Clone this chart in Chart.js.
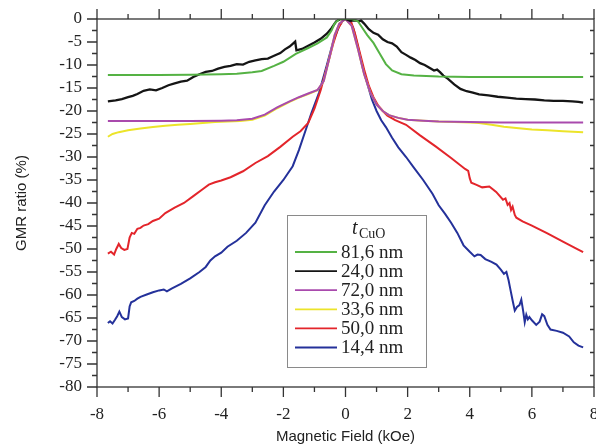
<!DOCTYPE html>
<html>
<head>
<meta charset="utf-8">
<script src="https://cdn.jsdelivr.net/npm/chart.js@4.4.0/dist/chart.umd.min.js"></script>
<style>
  html, body { margin: 0; padding: 0; background: #fff; }
  #wrap { width: 596px; height: 448px; position: relative; }
</style>
</head>
<body>
<div id="wrap"><canvas id="gmr"></canvas></div>
<script>
// thickness of CuO layer, one curve each
const labels = ['81,6 nm', '24,0 nm', '72,0 nm', '33,6 nm', '50,0 nm', '14,4 nm']

const xTicks = [-8, -6, -4, -2, 0, 2, 4, 6, 8]
const yTicks = [-80, -75, -70, -65, -60, -55, -50, -45, -40, -35, -30, -25, -20, -15, -10, -5, 0]

// 81,6 nm
const green_x = [-7.65, -6, -5, -4, -3.5, -3, -2.7, -2.3, -2, -1.6, -1.2, -0.9, -0.6, -0.45, -0.35, -0.2, 0, 0.2, 0.4, 0.55, 0.7, 0.9, 1.1, 1.3, 1.5, 1.8, 2.2, 3, 4, 5, 6, 7, 7.65]
const green_y = [-12.2, -12.2, -12.1, -12.0, -11.9, -11.6, -11.3, -10.2, -9.3, -7.6, -6.3, -5.3, -4.0, -2.5, -1, 0, 0, 0, -0.5, -2, -3.5, -5.2, -7.5, -9.8, -11.2, -12.0, -12.3, -12.5, -12.6, -12.6, -12.6, -12.6, -12.6]

// 24,0 nm
const black_x = [-7.65, -7.4, -7.2, -7.0, -6.85, -6.7, -6.5, -6.3, -6.1, -5.9, -5.7, -5.5, -5.3, -5.1, -4.9, -4.7, -4.5, -4.3, -4.1, -3.9, -3.7, -3.5, -3.3, -3.1, -2.9, -2.7, -2.5, -2.3, -2.1, -1.95, -1.8, -1.7, -1.62, -1.58, -1.4, -1.2, -1.0, -0.8, -0.6, -0.45, -0.3, -0.15, 0, 0.15, 0.3, 0.45,
  0.5, 0.6, 0.75, 0.9, 1.05, 1.2, 1.35, 1.5, 1.65, 1.8, 1.95, 2.1, 2.25, 2.4, 2.55, 2.7, 2.85, 2.95, 3.05, 3.15, 3.3, 3.5, 3.7, 3.9, 4.1, 4.3, 4.6, 4.9, 5.2, 5.5, 5.8, 6.1, 6.4, 6.7, 7.0, 7.3, 7.5, 7.65]
const black_y = [-17.9, -17.7, -17.4, -17.0, -16.7, -16.3, -15.6, -15.3, -15.5, -15.0, -14.4, -14.0, -13.6, -13.4, -12.6, -12.0, -11.5, -11.3, -10.8, -10.4, -10.2, -9.8, -9.9, -9.3, -9.0, -8.7, -8.6, -8.0, -7.4, -6.6, -6.0, -5.4, -4.9, -6.8, -6.5, -5.8, -5.1, -4.3, -3.2, -2.0, -0.5, 0, 0, -0.4, -0.3, -0.5,
  -0.3, -1.0, -2.2, -3.0, -3.4, -4.4, -5.0, -5.3, -6.0, -7.2, -7.8, -8.4, -8.9, -9.6, -10.0, -10.6, -11.2, -11.0, -11.6, -12.3, -13.0, -14.2, -15.2, -15.7, -16.0, -16.4, -16.6, -16.9, -17.1, -17.3, -17.4, -17.5, -17.7, -17.8, -17.8, -17.9, -18.0, -18.2]

// 72,0 nm
const purple_x = [-7.65, -6, -5, -4, -3.5, -3.0, -2.6, -2.2, -1.8, -1.5, -1.2, -0.9, -0.7, -0.5, -0.35, -0.2, 0, 0.2, 0.4, 0.6, 0.8, 1.0, 1.2, 1.4, 1.7, 2.0, 2.5, 3, 4, 5, 6, 7, 7.65]
const purple_y = [-22.2, -22.2, -22.2, -22.1, -22.0, -21.7, -20.8, -19.2, -17.9, -17.0, -16.2, -15.4, -13.5, -8.0, -3.5, -1.0, 0, -1.5, -6.5, -12.0, -16.0, -18.6, -20.0, -20.9, -21.5, -21.9, -22.1, -22.3, -22.4, -22.5, -22.5, -22.5, -22.5]

// 33,6 nm
const yellow_x = [-7.65, -7.5, -7.3, -7.0, -6.6, -6.2, -5.8, -5.4, -5.0, -4.6, -4.2, -3.8, -3.4, -3.0, -2.6, -2.2, -1.8, -1.5, -1.2, -0.9, -0.7, -0.5, -0.35, -0.2, 0, 0.2, 0.4, 0.6, 0.8, 1.0, 1.2, 1.4, 1.7, 2.0, 2.5, 3, 3.5, 4.0, 4.3, 4.7, 5.1, 5.5, 6.0, 6.5, 7.0, 7.65]
const yellow_y = [-25.6, -25.0, -24.6, -24.2, -23.8, -23.5, -23.2, -23.0, -22.8, -22.6, -22.4, -22.3, -22.2, -21.9, -21.0, -19.4, -18.0, -17.1, -16.3, -15.5, -13.5, -8.0, -3.5, -1.0, 0, -1.5, -6.5, -12.0, -16.0, -18.6, -20.0, -20.9, -21.5, -21.9, -22.1, -22.3, -22.4, -22.5, -22.6, -23.0, -23.4, -23.7, -24.0, -24.2, -24.4, -24.6]

// 50,0 nm
const red_x = [-7.65, -7.55, -7.45, -7.38, -7.3, -7.22, -7.12, -7.02, -6.95, -6.88, -6.8, -6.7, -6.6, -6.5, -6.35, -6.2, -6.0, -5.8, -5.5, -5.2, -4.9, -4.6, -4.4, -4.2, -4.0, -3.7, -3.3, -2.9, -2.5, -2.1, -1.7, -1.45, -1.2, -1.0, -0.8, -0.6, -0.4, -0.25, -0.1, 0,
  0.15, 0.3, 0.45, 0.6, 0.75, 0.9, 1.05, 1.2, 1.35, 1.6, 1.95, 2.4, 2.9, 3.4, 3.85, 3.95, 4.0, 4.05, 4.2, 4.4, 4.63, 4.85, 5.07, 5.15, 5.22, 5.28, 5.33, 5.38, 5.45, 5.5, 5.7, 6.0, 6.5, 7.0, 7.4, 7.65]
const red_y = [-51.0, -50.6, -51.2, -50.0, -48.9, -49.8, -50.2, -50.0, -47.5, -46.5, -46.7, -45.6, -45.4, -44.9, -44.6, -43.9, -43.4, -42.2, -41.0, -40.0, -38.5, -37.0, -36.0, -35.5, -35.1, -34.4, -33.1, -31.3, -29.8, -27.8, -25.6, -24.4, -22.6, -19.5, -15.5, -10.5, -5.5, -2.2, -0.5, 0,
  0, -3.0, -7.0, -11.0, -14.5, -17.0, -18.8, -20.0, -21.0, -22.0, -23.0, -25.3, -27.7, -30.2, -32.6, -33.0, -34.6, -35.6, -36.0, -36.6, -36.4, -37.6, -39.3, -39.0, -40.4, -40.0, -41.5, -40.8, -42.6, -43.2, -44.0, -44.9, -46.6, -48.4, -49.8, -50.7]

// 14,4 nm
const blue_x = [-7.65, -7.58, -7.5, -7.42, -7.35, -7.28, -7.2, -7.1, -7.0, -6.95, -6.9, -6.8, -6.7, -6.6, -6.4, -6.2, -6.0, -5.85, -5.75, -5.6, -5.3, -5.0, -4.7, -4.5, -4.35, -4.2, -4.0, -3.8, -3.5, -3.2, -2.9, -2.6, -2.3, -2.0, -1.7, -1.5, -1.3, -1.1, -0.85, -0.6, -0.4, -0.2, -0.05,
  0.1, 0.25, 0.4, 0.55, 0.7, 0.85, 1.0, 1.15, 1.3, 1.5, 1.7, 1.95, 2.2, 2.5, 2.8, 3.0, 3.2, 3.4, 3.6, 3.8, 4.0, 4.15, 4.25, 4.35, 4.5, 4.7, 4.86, 5.0, 5.1, 5.18, 5.25, 5.3, 5.38, 5.45, 5.52, 5.6, 5.66, 5.72, 5.77, 5.82, 5.87, 5.92, 6.0, 6.14, 6.25, 6.33, 6.4, 6.5, 6.6, 6.8, 7.0, 7.2, 7.35, 7.5, 7.65]
const blue_y = [-66.1, -65.7, -66.2, -65.4, -64.6, -63.6, -64.8, -65.3, -65.1, -62.5, -61.6, -61.3, -60.8, -60.4, -59.9, -59.4, -59.0, -58.8, -59.2, -58.6, -57.6, -56.4, -55.0, -53.9, -52.5, -51.6, -50.8, -49.5, -48.2, -46.5, -44.3, -40.5, -37.5, -35.0, -32.0, -28.5, -24.5, -20.5, -16.0, -10.0, -5.0, -1.5, 0,
  0, -2.0, -6.0, -10.5, -14.0, -17.5, -20.0, -22.0, -23.5, -25.8, -27.9, -30.0, -32.3, -35.0, -38.0, -40.5, -42.3, -44.3, -46.5, -49.2, -50.6, -51.6, -51.2, -51.3, -52.2, -52.8, -53.4, -54.5, -55.4, -55.0, -56.8, -58.5, -61.2, -63.4, -62.6, -62.2, -61.0, -63.5, -65.9, -64.3, -65.3, -64.8, -65.5, -66.5, -65.8, -64.2, -64.6, -66.5, -67.5, -67.8, -68.2, -69.0, -70.3, -71.0, -71.4]

const pts = (xs, ys) => xs.map((v, i) => ({ x: v, y: ys[i] }))

function series(i, xs, ys, color, width) {
    return {
        label: labels[i],
        data: pts(xs, ys),
        borderColor: color,
        backgroundColor: color,
        borderWidth: width || 2,
        pointRadius: 0,
        tension: 0,
        fill: false,
    }
}

const frameAndLegend = {
    id: 'frameAndLegend',
    afterDatasetsDraw(chart) {
        const { ctx, chartArea: { left, right, top, bottom }, scales: { x, y } } = chart
        ctx.save()
        ctx.strokeStyle = '#333'
        ctx.lineWidth = 1.3
        ctx.strokeRect(left, top, right - left, bottom - top)

        // ticks, major and minor, all four sides
        ctx.beginPath()
        for (let v = -8; v <= 8; v++) {
            const px = x.getPixelForValue(v), len = v % 2 === 0 ? 10 : 5
            ctx.moveTo(px, bottom); ctx.lineTo(px, bottom + len)
            ctx.moveTo(px, top); ctx.lineTo(px, top - len)
        }
        for (let v = -80; v <= 0; v += 2.5) {
            const py = y.getPixelForValue(v), len = v % 5 === 0 ? 10 : 5
            ctx.moveTo(left, py); ctx.lineTo(left - len, py)
            if (v % 5 !== 0) { ctx.moveTo(right, py); ctx.lineTo(right - 4, py) }
        }
        ctx.stroke()

        // legend box
        const bx = 287, by = 215, bw = 139, bh = 152
        ctx.fillStyle = '#fff'
        ctx.fillRect(bx, by, bw, bh)
        ctx.strokeStyle = '#8a8a8a'
        ctx.lineWidth = 1
        ctx.strokeRect(bx + 0.5, by + 0.5, bw, bh)

        ctx.fillStyle = '#222'
        ctx.textBaseline = 'alphabetic'
        ctx.textAlign = 'left'
        ctx.font = 'italic 20px "Liberation Serif"'
        ctx.fillText('t', 352, 234)
        ctx.font = '14px "Liberation Serif"'
        ctx.fillText('CuO', 359, 238)

        ctx.font = '19px "Liberation Serif"'
        ctx.textBaseline = 'middle'
        chart.data.datasets.forEach((ds, i) => {
            const ly = 252 + i * 19.1
            ctx.strokeStyle = ds.borderColor
            ctx.lineWidth = 1.8
            ctx.beginPath()
            ctx.moveTo(295, ly); ctx.lineTo(337, ly)
            ctx.stroke()
            ctx.fillStyle = '#222'
            ctx.fillText(ds.label, 341, ly + 1)
        })
        ctx.restore()
    }
}

new Chart(document.getElementById('gmr'), {
    type: 'line',
    data: {
        datasets: [
            series(0, green_x, green_y, '#55b244'),
            series(1, black_x, black_y, '#151515', 2.3),
            series(2, purple_x, purple_y, '#a94aad'),
            series(3, yellow_x, yellow_y, '#ece42a'),
            series(4, red_x, red_y, '#e3252b'),
            series(5, blue_x, blue_y, '#24319a'),
        ]
    },
    options: {
        responsive: true,
        maintainAspectRatio: false,
        animation: false,
        layout: { padding: { left: 0, right: 2, top: 19, bottom: 0 } },
        plugins: { legend: { display: false }, tooltip: { enabled: false } },
        scales: {
            x: {
                type: 'linear',
                min: -8, max: 8,
                afterBuildTicks: s => { s.ticks = xTicks.map(v => ({ value: v })) },
                afterFit: s => { s.height = 61; s.paddingLeft = 0; s.paddingRight = 0 },
                grid: { display: false, drawTicks: true, tickLength: 10 },
                border: { display: false },
                ticks: { autoSkip: false, padding: 7, color: '#222', font: { family: '"Liberation Serif"', size: 17 }, maxRotation: 0 },
                title: { display: true, text: 'Magnetic Field (kOe)', color: '#222', padding: { top: 0, bottom: 2 }, font: { family: '"Liberation Sans"', size: 15 } }
            },
            y: {
                type: 'linear',
                min: -80, max: 0,
                afterBuildTicks: s => { s.ticks = yTicks.map(v => ({ value: v })) },
                afterFit: s => { s.width = 97 },
                grid: { display: false, drawTicks: true, tickLength: 10 },
                border: { display: false },
                ticks: { autoSkip: false, padding: 5, color: '#222', font: { family: '"Liberation Serif"', size: 17 } },
                title: { display: true, text: 'GMR ratio (%)', color: '#222', padding: { top: 13, bottom: 0 }, font: { family: '"Liberation Sans"', size: 15 } }
            }
        }
    },
    plugins: [frameAndLegend]
})
</script>
</body>
</html>
